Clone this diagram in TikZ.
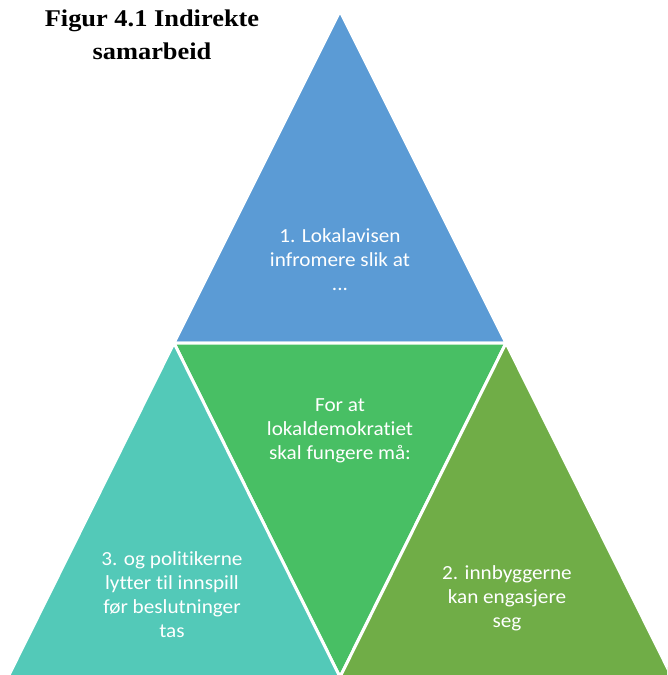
\documentclass[tikz,border=0pt]{standalone}
\usepackage{fontspec}
\newfontfamily\bodyfont[FakeStretch=1.06,Ligatures=NoCommon]{Carlito}
\newfontfamily\titlefont[FakeStretch=1.1]{Liberation Serif}
\definecolor{topblue}{HTML}{5B9BD5}
\definecolor{midgreen}{HTML}{48BF64}
\definecolor{leftteal}{HTML}{53C9B8}
\definecolor{rightgreen}{HTML}{70AD47}
\tikzset{
  tri/.style={draw=white, line width=3pt, line join=miter},
  lbl/.style={text=white, align=center, inner sep=0pt,
    font=\bodyfont\fontsize{20}{24}\selectfont},
  ttl/.style={text=black, align=center, inner sep=0pt,
    font=\titlefont\bfseries\fontsize{24}{33}\selectfont}
}
\begin{document}
\begin{tikzpicture}[x=1pt,y=-1pt]
\useasboundingbox (0,0) rectangle (667,675);
\clip (0,0) rectangle (667,675);
\coordinate (apex) at (340,11);
\coordinate (ml) at (174,343);
\coordinate (mr) at (506,343);
\coordinate (bl) at (8,677);
\coordinate (bm) at (340,677);
\coordinate (br) at (672,677);
\filldraw[tri, fill=topblue] (apex) -- (ml) -- (mr) -- cycle;
\filldraw[tri, fill=midgreen] (ml) -- (mr) -- (bm) -- cycle;
\filldraw[tri, fill=leftteal] (ml) -- (bm) -- (bl) -- cycle;
\filldraw[tri, fill=rightgreen] (mr) -- (br) -- (bm) -- cycle;
\node[ttl] (title) at (152,34.5) {Figur 4.1 Indirekte\\samarbeid};
\node[lbl] (t1) at (340,260) {1. Lokalavisen\\infromere slik at\\...};
\node[lbl] (tm) at (340,431) {For at\\lokaldemokratiet\\skal fungere må:};
\node[lbl] (t3) at (172,595) {3. og politikerne\\lytter til innspill\\før beslutninger\\tas};
\node[lbl] (t2) at (507,598) {2. innbyggerne\\kan engasjere\\seg};
\end{tikzpicture}
\end{document}
